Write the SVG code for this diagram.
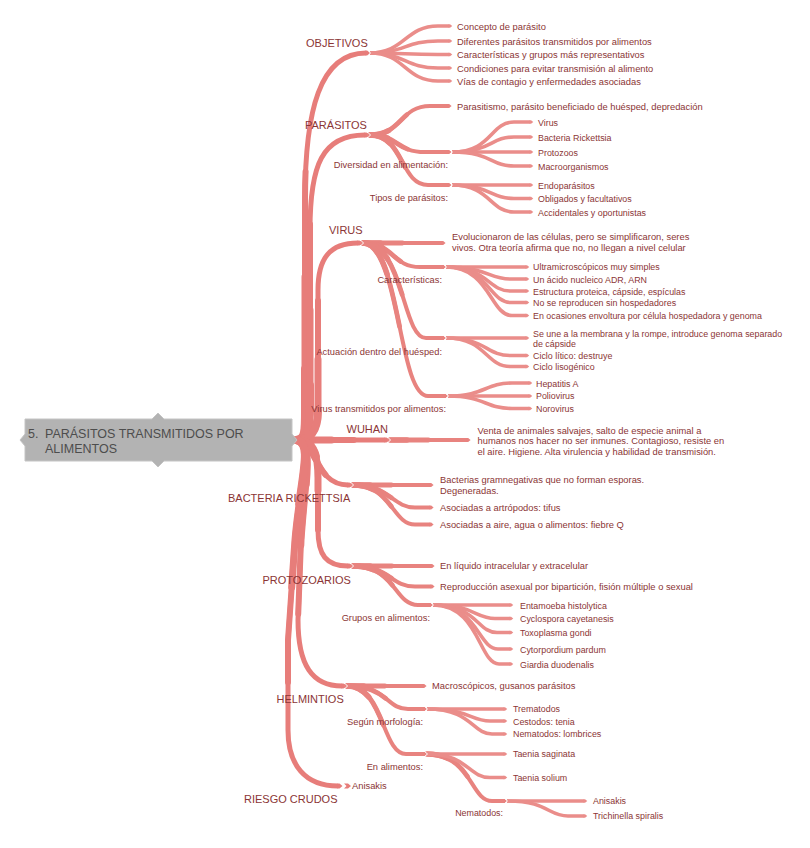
<svg xmlns="http://www.w3.org/2000/svg" width="810" height="848" viewBox="0 0 810 848">
<style>
.m{fill:none;stroke:#e77d7a;stroke-width:5;marker-end:url(#tm)}
.m2{fill:none;stroke:#e77d7a;stroke-width:6;stroke-dasharray:65 200;stroke-linecap:round}
.m3{fill:none;stroke:#e77d7a;stroke-width:7;stroke-dasharray:40 200;stroke-linecap:round}
.m4{fill:none;stroke:#e77d7a;stroke-width:8;stroke-dasharray:18 200;stroke-linecap:round}
.s{fill:none;stroke:#e8837f;stroke-width:4;marker-end:url(#ts)}
.s2{fill:none;stroke:#e8837f;stroke-width:4.8;stroke-dasharray:50 200;stroke-linecap:round}
.s3{fill:none;stroke:#e8837f;stroke-width:5.6;stroke-dasharray:22 200;stroke-linecap:round}
.l{fill:none;stroke:#ea8d8a;stroke-width:3.6;marker-end:url(#tl)}
.n{fill:none;stroke:#fff;stroke-width:1}
text{font-family:"Liberation Sans",Arial,sans-serif;fill:#8b3535}
.h{font-size:11px}
.t{font-size:9.35px}
.t3{font-size:8.9px}
.lb{font-size:9.3px;text-anchor:end}
.r{font-size:12.5px;fill:#4d4d4d}
</style>
<defs>
<marker id="tm" markerUnits="strokeWidth" markerWidth="3" markerHeight="3" refX="0" refY="1.5" orient="auto" overflow="visible"><path d="M-0.1,1 L0.3,1 L0.9,1.5 L0.3,2 L-0.1,2 Z" fill="#e77d7a"/></marker>
<marker id="ts" markerUnits="strokeWidth" markerWidth="3" markerHeight="3" refX="0" refY="1.5" orient="auto" overflow="visible"><path d="M-0.1,1 L0.3,1 L0.9,1.5 L0.3,2 L-0.1,2 Z" fill="#e8837f"/></marker>
<marker id="tl" markerUnits="strokeWidth" markerWidth="3" markerHeight="3" refX="0" refY="1.5" orient="auto" overflow="visible"><path d="M-0.1,1 L0.3,1 L0.9,1.5 L0.3,2 L-0.1,2 Z" fill="#ea8d8a"/></marker>
<!-- main branch geometry -->
<path id="m1" pathLength="100" d="M296,440 C306,440 305,428 305,405 L305,200 C305,110 320,53 366,53"/>
<path id="m2" pathLength="100" d="M296,440 C308,440 310,428 310,405 L310,230 C310,165 322,135 365,135"/>
<path id="m3" pathLength="100" d="M296,440 C312,440 318,430 318,410 L318,290 C318,258 330,243 358,243"/>
<path id="m4" pathLength="100" d="M296,440 L385,440"/>
<path id="m5" pathLength="100" d="M296,440 C318,440 314,485 348,485"/>
<path id="m6" pathLength="100" d="M296,440 C314,440 318,455 318,478 L318,530 C318,555 326,566 348,566"/>
<path id="m7" pathLength="100" d="M296,440 C314,442 305,480 301,540 L298,620 C298,665 312,686 342,686"/>
<path id="m8" pathLength="100" d="M296,440 C314,442 300,480 295,540 L288,640 L288,730 C288,765 305,786 338,786"/>
<!-- sub branch geometry -->
<path id="s1" pathLength="100" d="M370,135 C402,135 400,106 430,106 L448,106"/>
<path id="s2" pathLength="100" d="M370,135 C398,135 396,152 425,152 L448,152"/>
<path id="s3" pathLength="100" d="M370,135 C404,135 400,185 428,185 L448,185"/>
<path id="s4" pathLength="100" d="M363,243 L442,243"/>
<path id="s5" pathLength="100" d="M363,243 C394,243 392,267 420,267 L443,267"/>
<path id="s6" pathLength="100" d="M363,243 C404,243 402,338 426,338 L443,338"/>
<path id="s7" pathLength="100" d="M363,243 C400,243 398,396 428,396 L445,396"/>
<path id="s8" pathLength="100" d="M390,440 L467,440"/>
<path id="s9" pathLength="100" d="M353,485 L430,485"/>
<path id="s10" pathLength="100" d="M353,485 C390,485 392,507.5 415,507.5 L430,507.5"/>
<path id="s11" pathLength="100" d="M353,485 C392,485 392,524.5 415,524.5 L430,524.5"/>
<path id="s12" pathLength="100" d="M353,566 L431,566"/>
<path id="s13" pathLength="100" d="M353,566 C390,566 390,586.5 415,586.5 L431,586.5"/>
<path id="s14" pathLength="100" d="M353,566 C396,566 394,605 418,605 L430,605"/>
<path id="s15" pathLength="100" d="M347,686 L423,686"/>
<path id="s16" pathLength="100" d="M347,686 C388,686 386,709 408,709 L424,709"/>
<path id="s17" pathLength="100" d="M347,686 C384,686 382,754 406,754 L424,754"/>
<path id="s18" pathLength="100" d="M427,754 C472,754 470,801 492,801 L504,801"/>
</defs>
<rect width="810" height="848" fill="#fff"/>

<g id="connectors">
<!-- main branches (tapered by layering) -->
<use href="#m1" class="m"/><use href="#m1" class="m2"/><use href="#m1" class="m3"/><use href="#m1" class="m4"/>
<use href="#m2" class="m"/><use href="#m2" class="m2"/><use href="#m2" class="m3"/><use href="#m2" class="m4"/>
<use href="#m3" class="m"/><use href="#m3" class="m2"/><use href="#m3" class="m3"/><use href="#m3" class="m4"/>
<use href="#m4" class="m"/><use href="#m4" class="m2"/><use href="#m4" class="m3"/><use href="#m4" class="m4"/>
<use href="#m5" class="m"/><use href="#m5" class="m2"/><use href="#m5" class="m3"/><use href="#m5" class="m4"/>
<use href="#m6" class="m"/><use href="#m6" class="m2"/><use href="#m6" class="m3"/><use href="#m6" class="m4"/>
<use href="#m7" class="m"/><use href="#m7" class="m2"/><use href="#m7" class="m3"/><use href="#m7" class="m4"/>
<use href="#m8" class="m"/><use href="#m8" class="m2"/><use href="#m8" class="m3"/><use href="#m8" class="m4"/>
<!-- sub branches -->
<use href="#s1" class="s"/><use href="#s1" class="s2"/><use href="#s1" class="s3"/>
<use href="#s2" class="s"/><use href="#s2" class="s2"/><use href="#s2" class="s3"/>
<use href="#s3" class="s"/><use href="#s3" class="s2"/><use href="#s3" class="s3"/>
<use href="#s4" class="s"/><use href="#s4" class="s2"/><use href="#s4" class="s3"/>
<use href="#s5" class="s"/><use href="#s5" class="s2"/><use href="#s5" class="s3"/>
<use href="#s6" class="s"/><use href="#s6" class="s2"/><use href="#s6" class="s3"/>
<use href="#s7" class="s"/><use href="#s7" class="s2"/><use href="#s7" class="s3"/>
<use href="#s8" class="s"/><use href="#s8" class="s2"/><use href="#s8" class="s3"/>
<use href="#s9" class="s"/><use href="#s9" class="s2"/><use href="#s9" class="s3"/>
<use href="#s10" class="s"/><use href="#s10" class="s2"/><use href="#s10" class="s3"/>
<use href="#s11" class="s"/><use href="#s11" class="s2"/><use href="#s11" class="s3"/>
<use href="#s12" class="s"/><use href="#s12" class="s2"/><use href="#s12" class="s3"/>
<use href="#s13" class="s"/><use href="#s13" class="s2"/><use href="#s13" class="s3"/>
<use href="#s14" class="s"/><use href="#s14" class="s2"/><use href="#s14" class="s3"/>
<use href="#s15" class="s"/><use href="#s15" class="s2"/><use href="#s15" class="s3"/>
<use href="#s16" class="s"/><use href="#s16" class="s2"/><use href="#s16" class="s3"/>
<use href="#s17" class="s"/><use href="#s17" class="s2"/><use href="#s17" class="s3"/>
<use href="#s18" class="s"/><use href="#s18" class="s2"/><use href="#s18" class="s3"/>
<!-- leaves: OBJETIVOS -->
<path class="l" d="M370,53 C405,53 405,26 438,26 L449,26"/>
<path class="l" d="M370,53 C405,53 405,41 438,41 L449,41"/>
<path class="l" d="M370,53 C405,53 405,54.5 438,54.5 L449,54.5"/>
<path class="l" d="M370,53 C405,53 405,68 438,68 L449,68"/>
<path class="l" d="M370,53 C405,53 405,81 438,81 L449,81"/>
<!-- leaves: Diversidad / Tipos -->
<path class="l" d="M452,152 C492,152 490,122 514,122 L530,122"/>
<path class="l" d="M452,152 C492,152 490,137 514,137 L530,137"/>
<path class="l" d="M452,152 L530,152"/>
<path class="l" d="M452,152 C492,152 490,166 514,166 L530,166"/>
<path class="l" d="M452,185 L530,185"/>
<path class="l" d="M452,185 C490,185 490,198.5 514,198.5 L530,198.5"/>
<path class="l" d="M452,185 C490,185 490,212 514,212 L530,212"/>
<!-- leaves: VIRUS -->
<path class="l" d="M446,267 L526,267"/>
<path class="l" d="M446,267 C488,267 488,279 510,279 L526,279"/>
<path class="l" d="M446,267 C488,267 488,291 510,291 L526,291"/>
<path class="l" d="M446,267 C489,267 489,302.5 511,302.5 L526,302.5"/>
<path class="l" d="M446,267 C490,267 490,315.5 512,315.5 L526,315.5"/>
<path class="l" d="M446,338 L526,338"/>
<path class="l" d="M446,338 C486,338 486,355.5 510,355.5 L526,355.5"/>
<path class="l" d="M446,338 C486,338 486,366.5 510,366.5 L526,366.5"/>
<path class="l" d="M448,396 C485,396 485,383 512,383 L529,383"/>
<path class="l" d="M448,396 L529,396"/>
<path class="l" d="M448,396 C485,396 485,408.5 512,408.5 L529,408.5"/>
<!-- leaves: PROTOZOARIOS -->
<path class="l" d="M433,605 L510,605"/>
<path class="l" d="M433,605 C475,605 475,618.5 495,618.5 L510,618.5"/>
<path class="l" d="M433,605 C477,605 477,632.5 497,632.5 L510,632.5"/>
<path class="l" d="M433,605 C478,605 478,649 498,649 L510,649"/>
<path class="l" d="M433,605 C479,605 479,664 499,664 L510,664"/>
<!-- leaves: HELMINTIOS -->
<path class="l" d="M427,709 L504,709"/>
<path class="l" d="M427,709 C470,709 470,721 490,721 L504,721"/>
<path class="l" d="M427,709 C472,709 472,734 492,734 L504,734"/>
<path class="l" d="M427,754 L504,754"/>
<path class="l" d="M427,754 C468,754 468,777.5 490,777.5 L504,777.5"/>
<path class="l" d="M507,801 L584,801"/>
<path class="l" d="M507,801 C548,801 548,816 568,816 L584,816"/>
<!-- RIESGO CRUDOS stub -->
<polygon points="344,783.5 348,783.5 351,786 348,788.5 344,788.5 346.5,786" fill="#e77d7a"/>
<!-- notches -->
<polyline class="n" points="367,49.5 370.5,53 367,56.5"/>
<polyline class="n" points="367,131.5 370.5,135 367,138.5"/>
<polyline class="n" points="360,239.5 363.5,243 360,246.5"/>
<polyline class="n" points="387,436.5 390.5,440 387,443.5"/>
<polyline class="n" points="350,481.5 353.5,485 350,488.5"/>
<polyline class="n" points="350,562.5 353.5,566 350,569.5"/>
<polyline class="n" points="344,682.5 347.5,686 344,689.5"/>
<polyline class="n" points="449,149 452.5,152 449,155"/>
<polyline class="n" points="449,182 452.5,185 449,188"/>
<polyline class="n" points="443,264 446.5,267 443,270"/>
<polyline class="n" points="443,335 446.5,338 443,341"/>
<polyline class="n" points="445,393 448.5,396 445,399"/>
<polyline class="n" points="430,602 433.5,605 430,608"/>
<polyline class="n" points="424,706 427.5,709 424,712"/>
<polyline class="n" points="424,751 427.5,754 424,757"/>
<polyline class="n" points="504,798 507.5,801 504,804"/>
</g>

<g id="root">
<path d="M25,419 L152,419 L158,413 L164,419 L292,419 L292,434 L297,440 L292,446 L292,461 L164,461 L158,467 L152,461 L25,461 L25,446 L20,440 L25,434 Z" fill="#b3b3b3" stroke="#c4c4c4" stroke-width="1"/>
<text class="r" x="28" y="438">5.</text>
<text class="r" x="45" y="438">PARÁSITOS TRANSMITIDOS POR</text>
<text class="r" x="45" y="453">ALIMENTOS</text>
</g>

<g id="objetivos">
<text class="h" x="306" y="46.5">OBJETIVOS</text>
<text class="t" x="457" y="29.5">Concepto de parásito</text>
<text class="t" x="457" y="44.5">Diferentes parásitos transmitidos por alimentos</text>
<text class="t" x="457" y="58">Características y grupos más representativos</text>
<text class="t" x="457" y="71.5">Condiciones para evitar transmisión al alimento</text>
<text class="t" x="457" y="84.5">Vías de contagio y enfermedades asociadas</text>
</g>

<g id="parasitos">
<text class="h" x="305" y="129">PARÁSITOS</text>
<text class="t" x="457" y="109.5">Parasitismo, parásito beneficiado de huésped, depredación</text>
</g>
<g id="diversidad">
<text class="lb" x="448" y="167.5">Diversidad en alimentación:</text>
<text class="t3" x="538" y="125.5">Virus</text>
<text class="t3" x="538" y="140.5">Bacteria Rickettsia</text>
<text class="t3" x="538" y="155.5">Protozoos</text>
<text class="t3" x="538" y="169.5">Macroorganismos</text>
</g>
<g id="tipos">
<text class="lb" x="448" y="201">Tipos de parásitos:</text>
<text class="t3" x="538" y="188.5">Endoparásitos</text>
<text class="t3" x="538" y="202">Obligados y facultativos</text>
<text class="t3" x="538" y="216">Accidentales y oportunistas</text>
</g>

<g id="virus">
<text class="h" x="329" y="234">VIRUS</text>
<text class="t" x="452" y="240">Evolucionaron de las células, pero se simplificaron, seres</text>
<text class="t" x="452" y="251">vivos. Otra teoría afirma que no, no llegan a nivel celular</text>
</g>
<g id="caracteristicas">
<text class="lb" x="442" y="283">Características:</text>
<text class="t3" x="533" y="270">Ultramicroscópicos muy simples</text>
<text class="t3" x="533" y="282.5">Un ácido nucleico ADR, ARN</text>
<text class="t3" x="533" y="294.5">Estructura proteica, cápside, espículas</text>
<text class="t3" x="533" y="306">No se reproducen sin hospedadores</text>
<text class="t3" x="533" y="319">En ocasiones envoltura por célula hospedadora y genoma</text>
</g>
<g id="actuacion">
<text class="lb" x="442" y="354.5">Actuación dentro del huésped:</text>
<text class="t3" x="533" y="337">Se une a la membrana y la rompe, introduce genoma separado</text>
<text class="t3" x="533" y="347">de cápside</text>
<text class="t3" x="533" y="359">Ciclo lítico: destruye</text>
<text class="t3" x="533" y="370">Ciclo lisogénico</text>
</g>
<g id="virus-alimentos">
<text class="lb" x="446" y="412">Virus transmitidos por alimentos:</text>
<text class="t3" x="536" y="386.5">Hepatitis A</text>
<text class="t3" x="536" y="399">Poliovirus</text>
<text class="t3" x="536" y="412">Norovirus</text>
</g>

<g id="wuhan">
<text class="h" x="346.5" y="432.5">WUHAN</text>
<text class="t" x="477.5" y="433.5">Venta de animales salvajes, salto de especie animal a</text>
<text class="t" x="477.5" y="444">humanos nos hacer no ser inmunes. Contagioso, resiste en</text>
<text class="t" x="477.5" y="454.5">el aire. Higiene. Alta virulencia y habilidad de transmisión.</text>
</g>

<g id="bacteria">
<text class="h" x="228" y="501.5">BACTERIA RICKETTSIA</text>
<text class="t" x="440" y="482.5">Bacterias gramnegativas que no forman esporas.</text>
<text class="t" x="440" y="493.5">Degeneradas.</text>
<text class="t" x="440" y="511">Asociadas a artrópodos: tifus</text>
<text class="t" x="440" y="528">Asociadas a aire, agua o alimentos: fiebre Q</text>
</g>

<g id="protozoarios">
<text class="h" x="262.5" y="583.5">PROTOZOARIOS</text>
<text class="t" x="440" y="569">En líquido intracelular y extracelular</text>
<text class="t" x="440" y="590">Reproducción asexual por bipartición, fisión múltiple o sexual</text>
</g>
<g id="grupos">
<text class="lb" x="430" y="621">Grupos en alimentos:</text>
<text class="t3" x="520" y="608.5">Entamoeba histolytica</text>
<text class="t3" x="520" y="622">Cyclospora cayetanesis</text>
<text class="t3" x="520" y="636">Toxoplasma gondi</text>
<text class="t3" x="520" y="652.5">Cytorpordium pardum</text>
<text class="t3" x="520" y="667.5">Giardia duodenalis</text>
</g>

<g id="helmintios">
<text class="h" x="276.5" y="702.5">HELMINTIOS</text>
<text class="t" x="432" y="688.5">Macroscópicos, gusanos parásitos</text>
</g>
<g id="morfologia">
<text class="lb" x="423" y="724.5">Según morfología:</text>
<text class="t3" x="513" y="712">Trematodos</text>
<text class="t3" x="513" y="724.5">Cestodos: tenia</text>
<text class="t3" x="513" y="737">Nematodos: lombrices</text>
</g>
<g id="en-alimentos">
<text class="lb" x="423" y="769.5">En alimentos:</text>
<text class="t3" x="513" y="757">Taenia saginata</text>
<text class="t3" x="513" y="781">Taenia solium</text>
</g>
<g id="nematodos">
<text class="lb" x="503" y="816" style="font-size:8.9px">Nematodos:</text>
<text class="t3" x="593" y="804">Anisakis</text>
<text class="t3" x="593" y="819">Trichinella spiralis</text>
</g>

<g id="riesgo">
<text class="h" x="244" y="803">RIESGO CRUDOS</text>
<text class="t" x="352" y="789">Anisakis</text>
</g>
</svg>
